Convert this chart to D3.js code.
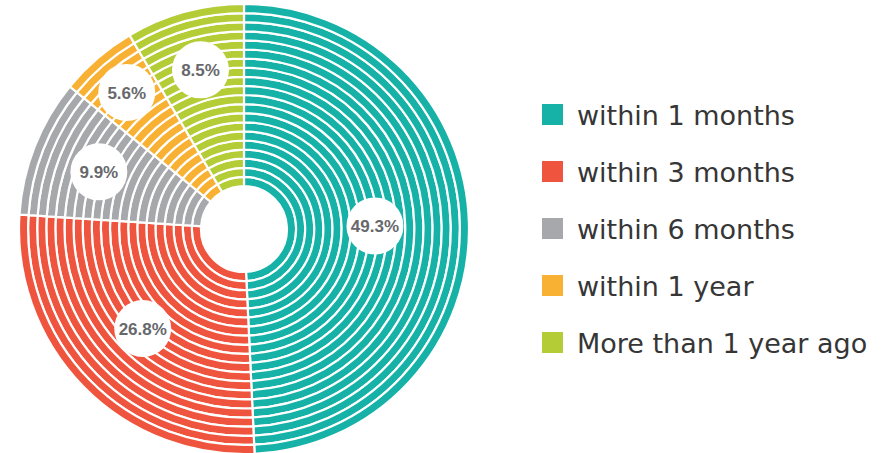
<!DOCTYPE html>
<html>
<head>
<meta charset="utf-8">
<script src="https://cdn.jsdelivr.net/npm/d3@7"></script>
<style>
  html, body { margin: 0; padding: 0; background: #ffffff; }
  svg { display: block; }
</style>
</head>
<body>
<svg id="chart" width="885" height="453"></svg>
<script>
// ---- data ----
const categories = ["within 1 months", "within 3 months", "within 6 months", "within 1 year", "More than 1 year ago"];
const values = [49.3, 26.8, 9.9, 5.6, 8.5];
const valueLabels = ["49.3%", "26.8%", "9.9%", "5.6%", "8.5%"];
const colors = ["#17b2a7", "#ef553e", "#a7a8ac", "#f8b133", "#b4cc36"];

// ---- layout ----
const W = 885, H = 453;
const cx = 244, cy = 229;
const innerR = 43, outerR = 225;
const ringCount = 20;
const labelRadius = [131, 142, 156, 180, 165];
const labelCircleR = 28.5;

const svg = d3.select("#chart");
const g = svg.append("g").attr("transform", `translate(${cx},${cy})`);

const data = categories.map((c, i) => ({ cat: c, value: values[i], label: valueLabels[i], color: colors[i], lr: labelRadius[i] }));

const pie = d3.pie().value(d => d.value).sort(null);
const arcs = pie(data);

const ringScale = d3.scaleLinear().domain([0, ringCount]).range([innerR, outerR]);
const rings = d3.range(ringCount);

const arcGen = d3.arc();

const sliceG = g.selectAll("g.slice").data(arcs).join("g").attr("class", "slice");
sliceG.selectAll("path")
  .data(a => rings.map(i => ({ a, i })))
  .join("path")
  .attr("d", d => arcGen({
    innerRadius: ringScale(d.i),
    outerRadius: ringScale(d.i + 1),
    startAngle: d.a.startAngle,
    endAngle: d.a.endAngle
  }))
  .attr("fill", d => d.a.data.color)
  .attr("stroke", "#ffffff")
  .attr("stroke-width", 2.2)
  .attr("stroke-linejoin", "miter");

// labels
const lab = g.selectAll("g.lab").data(arcs).join("g").attr("class", "lab")
  .attr("transform", d => {
    const a = (d.startAngle + d.endAngle) / 2;
    const r = d.data.lr;
    return `translate(${r * Math.sin(a)},${-r * Math.cos(a)})`;
  });
lab.append("circle").attr("r", labelCircleR).attr("fill", "#ffffff");
lab.append("text")
  .attr("text-anchor", "middle")
  .attr("dy", "0.36em")
  .attr("font-family", "Liberation Sans, Arial, sans-serif")
  .attr("font-weight", "bold")
  .attr("font-size", 17)
  .attr("fill", "#67686b")
  .text(d => d.data.label);

// legend
const legendY = d3.scalePoint().domain(categories).range([114.5, 342.5]);
const leg = svg.append("g").selectAll("g").data(data).join("g")
  .attr("transform", d => `translate(542,${legendY(d.cat)})`);
leg.append("rect").attr("x", 0).attr("y", -10.5).attr("width", 21).attr("height", 21).attr("fill", d => d.color);
leg.append("text")
  .attr("x", 35)
  .attr("y", 10)
  .attr("font-family", "DejaVu Sans, sans-serif")
  .attr("font-size", 27)
  .attr("fill", "#363636")
  .text(d => d.cat);
</script>
</body>
</html>
